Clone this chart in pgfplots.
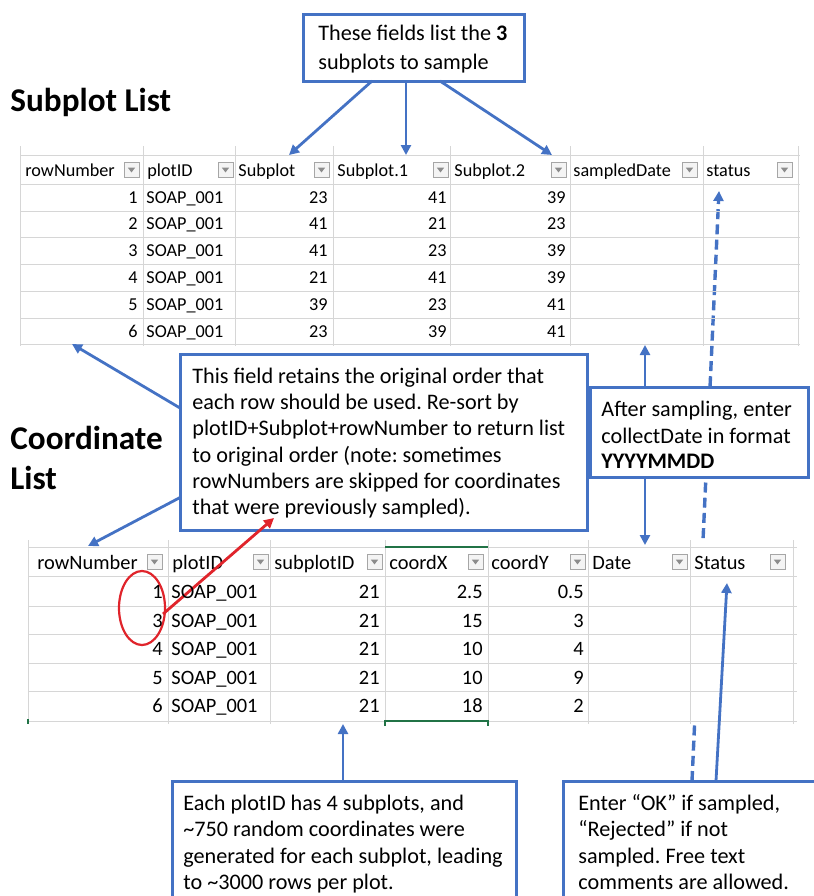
\documentclass[border=0pt]{standalone}
\usepackage{fontspec}
\setmainfont{Carlito}
\usepackage{pgfplots}
\usepackage{pgfplotstable}
\pgfplotsset{compat=1.18}
\usetikzlibrary{arrows.meta}
\frenchspacing
\definecolor{bx}{HTML}{4472C4}
\definecolor{gridc}{HTML}{D6D6D6}
\definecolor{ddb}{HTML}{A6A6A6}
\definecolor{ddf}{HTML}{F4F4F4}
\definecolor{ddt}{HTML}{8C8C8C}
\definecolor{xlg}{HTML}{217346}
\definecolor{rd}{HTML}{E0242B}
\newcommand\ftA{\fontsize{9.1}{11}\selectfont}
\newcommand\ftB{\fontsize{10.2}{12}\selectfont}
\newcommand\ftX{\fontsize{11.1}{13}\selectfont}
\newcommand\ftT{\fontsize{16.6}{19}\selectfont\bfseries}
\newcommand{\dd}[2]{%
  \draw[draw=ddb, fill=ddf, line width=0.4pt] (#1,#2) ++(0,3.75pt) rectangle ++(7.5pt,-7.5pt);
  \fill[ddt] (#1,#2) ++(1.9pt,1.2pt) -- ++(3.7pt,0) -- ++(-1.85pt,-2.4pt) -- cycle;}

% Subplot List
\pgfplotstableread{
row plot s0 s1 s2
1 SOAP\_001 23 41 39
2 SOAP\_001 41 21 23
3 SOAP\_001 41 23 39
4 SOAP\_001 21 41 39
5 SOAP\_001 39 23 41
6 SOAP\_001 23 39 41
}\subplottab

% Coordinate List
\pgfplotstableread{
row plot sub cx cy
1 SOAP\_001 21 2.5 0.5
3 SOAP\_001 21 15 3
4 SOAP\_001 21 10 4
5 SOAP\_001 21 10 9
6 SOAP\_001 21 18 2
}\coordtab

\begin{document}
\begin{tikzpicture}
\begin{axis}[scale only axis, width=407pt, height=448pt,
  xmin=0, xmax=814, ymin=0, ymax=896, y dir=reverse,
  hide axis, clip=true,
  point meta=explicit symbolic]

% dashed arrow (behind tables)
\draw[bx, line width=1.7pt, dash pattern=on 5pt off 2.6pt, -{Triangle[length=5pt,width=5pt]}] (692,781) -- (719,191);

% ---------- upper table grid ----------
\pgfplotsinvokeforeach{155,184,211,237.5,264.5,291.5,318,344}{
  \draw[gridc, line width=0.5pt] (20,#1) -- (800,#1);}
\pgfplotsinvokeforeach{20,143,235,333,450,570,703,798}{
  \draw[gridc, line width=0.5pt] (#1,146) -- (#1,346);}

% headers upper
\node[anchor=base west, inner sep=0pt, font=\ftA] at (25,176) {rowNumber};
\node[anchor=base west, inner sep=0pt, font=\ftA] at (147,176) {plotID};
\node[anchor=base west, inner sep=0pt, font=\ftA] at (238,176) {Subplot};
\node[anchor=base west, inner sep=0pt, font=\ftA] at (337,176) {Subplot.1};
\node[anchor=base west, inner sep=0pt, font=\ftA] at (454,176) {Subplot.2};
\node[anchor=base west, inner sep=0pt, font=\ftA] at (573,176) {sampledDate};
\node[anchor=base west, inner sep=0pt, font=\ftA] at (706,176) {status};
\dd{124}{170}\dd{218}{170}\dd{314}{170}\dd{433}{170}\dd{551}{170}\dd{682}{170}\dd{777}{170}

% data upper
\addplot[only marks, mark=none, nodes near coords, every node near coord/.append style={anchor=base east, inner sep=0pt, font=\ftA}]
  table[x expr=138, y expr=203+\coordindex*26.8, meta=row] {\subplottab};
\addplot[only marks, mark=none, nodes near coords, every node near coord/.append style={anchor=base west, inner sep=0pt, font=\ftA}]
  table[x expr=146, y expr=203+\coordindex*26.8, meta=plot] {\subplottab};
\addplot[only marks, mark=none, nodes near coords, every node near coord/.append style={anchor=base east, inner sep=0pt, font=\ftA}]
  table[x expr=328, y expr=203+\coordindex*26.8, meta=s0] {\subplottab};
\addplot[only marks, mark=none, nodes near coords, every node near coord/.append style={anchor=base east, inner sep=0pt, font=\ftA}]
  table[x expr=447, y expr=203+\coordindex*26.8, meta=s1] {\subplottab};
\addplot[only marks, mark=none, nodes near coords, every node near coord/.append style={anchor=base east, inner sep=0pt, font=\ftA}]
  table[x expr=566, y expr=203+\coordindex*26.8, meta=s2] {\subplottab};

% ---------- lower table ----------
\fill[white] (26,540) rectangle (800,724);
\pgfplotsinvokeforeach{547,576,606,634,663,691,721}{
  \draw[gridc, line width=0.5pt] (28,#1) -- (797,#1);}
\pgfplotsinvokeforeach{28,168,270,385,488,588,690,793}{
  \draw[gridc, line width=0.5pt] (#1,540) -- (#1,724);}
\draw[xlg, line width=1.3pt] (385,547) -- (488,547);
\draw[xlg, line width=1.3pt] (385,726) -- (385,721) -- (488,721) -- (488,726);
\draw[xlg, line width=1.3pt] (28,719) -- (28,724);

\node[anchor=base west, inner sep=0pt, font=\ftB] at (37,569) {rowNumber};
\node[anchor=base west, inner sep=0pt, font=\ftB] at (172,569) {plotID};
\node[anchor=base west, inner sep=0pt, font=\ftB] at (274,569) {subplotID};
\node[anchor=base west, inner sep=0pt, font=\ftB] at (389,569) {coordX};
\node[anchor=base west, inner sep=0pt, font=\ftB] at (491,569) {coordY};
\node[anchor=base west, inner sep=0pt, font=\ftB] at (592,569) {Date};
\node[anchor=base west, inner sep=0pt, font=\ftB] at (694,569) {Status};
\dd{147}{562}\dd{253}{562}\dd{367}{562}\dd{468}{562}\dd{570}{562}\dd{672}{562}\dd{770}{562}

\addplot[only marks, mark=none, nodes near coords, every node near coord/.append style={anchor=base east, inner sep=0pt, font=\ftB}]
  table[x expr=163, y expr=598.5+\coordindex*28.5, meta=row] {\coordtab};
\addplot[only marks, mark=none, nodes near coords, every node near coord/.append style={anchor=base west, inner sep=0pt, font=\ftB}]
  table[x expr=171, y expr=598.5+\coordindex*28.5, meta=plot] {\coordtab};
\addplot[only marks, mark=none, nodes near coords, every node near coord/.append style={anchor=base east, inner sep=0pt, font=\ftB}]
  table[x expr=380, y expr=598.5+\coordindex*28.5, meta=sub] {\coordtab};
\addplot[only marks, mark=none, nodes near coords, every node near coord/.append style={anchor=base east, inner sep=0pt, font=\ftB}]
  table[x expr=483, y expr=598.5+\coordindex*28.5, meta=cx] {\coordtab};
\addplot[only marks, mark=none, nodes near coords, every node near coord/.append style={anchor=base east, inner sep=0pt, font=\ftB}]
  table[x expr=584, y expr=598.5+\coordindex*28.5, meta=cy] {\coordtab};

% titles
\node[anchor=base west, inner sep=0pt, font=\ftT] at (10,111) {Subplot List};
\node[anchor=base west, inner sep=0pt, font=\ftT] at (10,449) {Coordinate};
\node[anchor=base west, inner sep=0pt, font=\ftT] at (10,489) {List};

% ---------- callout boxes ----------
\draw[bx, line width=1.5pt, fill=white] (303,14) rectangle (524,81);
\node[anchor=base west, inner sep=0pt, font=\ftX] at (318,40) {These fields list the \textbf{3}};
\node[anchor=base west, inner sep=0pt, font=\ftX] at (318,69) {subplots to sample};

\draw[bx, line width=1.5pt, fill=white] (180,354) rectangle (587,530);
\node[anchor=base west, inner sep=0pt, font=\ftX] at (192,383) {This field retains the original order that};
\node[anchor=base west, inner sep=0pt, font=\ftX] at (192,409) {each row should be used. Re-sort by};
\node[anchor=base west, inner sep=0pt, font=\ftX] at (192,435) {plotID+Subplot+rowNumber to return list};
\node[anchor=base west, inner sep=0pt, font=\ftX] at (192,462) {to original order (note: sometimes};
\node[anchor=base west, inner sep=0pt, font=\ftX] at (192,488) {rowNumbers are skipped for coordinates};
\node[anchor=base west, inner sep=0pt, font=\ftX] at (192,514) {that were previously sampled).};

\draw[bx, line width=1.5pt, fill=white] (590,387) rectangle (808,477);
\node[anchor=base west, inner sep=0pt, font=\ftX] at (601,416) {After sampling, enter};
\node[anchor=base west, inner sep=0pt, font=\ftX] at (601,443) {collectDate in format};
\node[anchor=base west, inner sep=0pt, font=\ftX] at (601,468) {\textbf{YYYYMMDD}};

\draw[bx, line width=1.5pt, fill=white] (172,900) -- (172,781) -- (516,781) -- (516,900);
\node[anchor=base west, inner sep=0pt, font=\ftX] at (183,810) {Each plotID has 4 subplots, and};
\node[anchor=base west, inner sep=0pt, font=\ftX] at (183,836) {\textasciitilde750 random coordinates were};
\node[anchor=base west, inner sep=0pt, font=\ftX] at (183,863) {generated for each subplot, leading};
\node[anchor=base west, inner sep=0pt, font=\ftX] at (183,889) {to \textasciitilde3000 rows per plot.};

\draw[bx, line width=1.5pt, fill=white] (563,900) -- (563,781) -- (820,781) -- (820,900);
\node[anchor=base west, inner sep=0pt, font=\ftX] at (578,810) {Enter “OK” if sampled,};
\node[anchor=base west, inner sep=0pt, font=\ftX] at (578,836) {“Rejected” if not};
\node[anchor=base west, inner sep=0pt, font=\ftX] at (578,863) {sampled. Free text};
\node[anchor=base west, inner sep=0pt, font=\ftX] at (578,889) {comments are allowed.};

% ---------- arrows ----------
\begin{scope}[bx, line width=1.4pt, -{Triangle[length=5pt,width=5pt]}]
\draw (372,81) -- (289,155);
\draw (406,81) -- (406,155);
\draw (440,81) -- (552,155);
\draw (180,408) -- (72,344);
\draw (181,497) -- (88,546);
\draw (645,387) -- (645,345);
\draw (645,477) -- (645,545);
\draw (716,781) -- (727,583);
\draw (343,781) -- (343,724);
\end{scope}

% red annotation
\draw[rd, line width=1.1pt] (142,608) ellipse [x radius=11.5pt, y radius=18.5pt];
\draw[rd, line width=1.4pt, -{Triangle[length=5pt,width=5pt]}] (163,614) -- (274,518);

\end{axis}
\pgfresetboundingbox
\path (current axis.south west) rectangle (current axis.north east);
\end{tikzpicture}
\end{document}
